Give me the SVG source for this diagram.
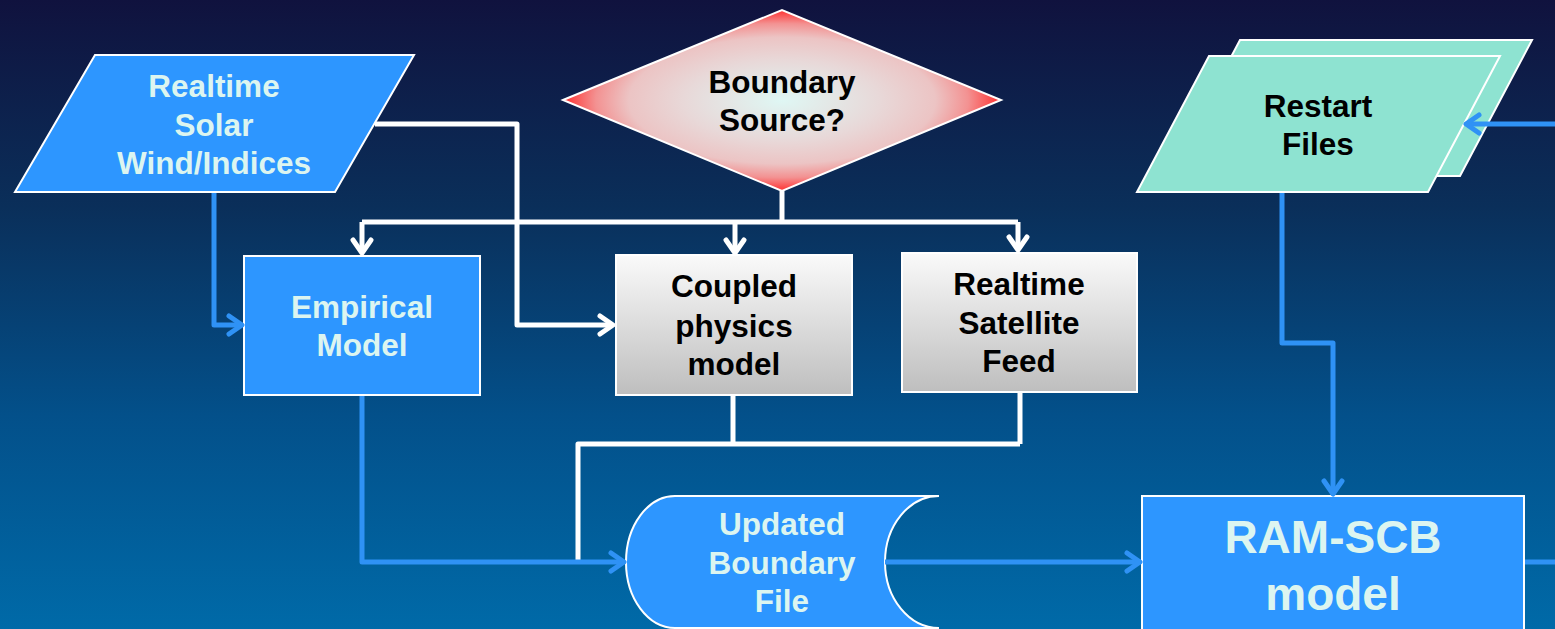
<svg xmlns="http://www.w3.org/2000/svg" width="1555" height="629" viewBox="0 0 1555 629">
<defs>
  <linearGradient id="bg" x1="0" y1="0" x2="0" y2="1">
    <stop offset="0" stop-color="#10123e"/>
    <stop offset="0.33" stop-color="#0a2f5a"/>
    <stop offset="0.66" stop-color="#03508a"/>
    <stop offset="1" stop-color="#006aa8"/>
  </linearGradient>
  <linearGradient id="gray" x1="0" y1="0" x2="0" y2="1">
    <stop offset="0" stop-color="#fafafa"/>
    <stop offset="1" stop-color="#bebebe"/>
  </linearGradient>
  <radialGradient id="dia" cx="0.5" cy="0.5" r="0.5">
    <stop offset="0" stop-color="#dff7f4"/>
    <stop offset="0.45" stop-color="#e8d8d8"/>
    <stop offset="0.7" stop-color="#ecc4c4"/>
    <stop offset="0.85" stop-color="#f39292"/>
    <stop offset="1" stop-color="#ff3030"/>
  </radialGradient>
  <marker id="aw" markerUnits="userSpaceOnUse" markerWidth="30" markerHeight="30" viewBox="-20 -15 30 30" refX="0" refY="0" orient="auto">
    <path d="M -13 -9 L 0 0 L -13 9" fill="none" stroke="#ffffff" stroke-width="5" stroke-linecap="round" stroke-linejoin="round"/>
  </marker>
  <marker id="ab" markerUnits="userSpaceOnUse" markerWidth="30" markerHeight="30" viewBox="-20 -15 30 30" refX="0" refY="0" orient="auto">
    <path d="M -13 -9 L 0 0 L -13 9" fill="none" stroke="#2f92f5" stroke-width="5" stroke-linecap="round" stroke-linejoin="round"/>
  </marker>
</defs>
<style>
  .node { stroke: #ffffff; stroke-width: 2; }
  .blue { fill: #2d96ff; }
  .teal { fill: #8ee3d1; }
  .lt { font-family: "Liberation Sans", Arial, sans-serif; font-weight: bold; font-size: 31.5px; fill: #dcf5f0; text-anchor: middle; }
  .dk { font-family: "Liberation Sans", Arial, sans-serif; font-weight: bold; font-size: 31.5px; fill: #000000; text-anchor: middle; }
  .big { font-size: 46px; }
  .wl { fill: none; stroke: #ffffff; stroke-width: 5; stroke-linejoin: round; }
  .bl { fill: none; stroke: #2f92f5; stroke-width: 5; stroke-linejoin: round; }
</style>
<rect x="0" y="0" width="1555" height="629" fill="url(#bg)"/>

<g id="solar-wind">
  <polygon class="node blue" points="95,55 414,55 335,192 15,192"/>
  <text class="lt" x="214" y="97">Realtime</text>
  <text class="lt" x="214" y="136">Solar</text>
  <text class="lt" x="214" y="174">Wind/Indices</text>
</g>

<g id="boundary-source">
  <polygon class="node" fill="url(#dia)" points="563,100 782,10 1001,100 782,191"/>
  <text class="dk" x="782" y="93">Boundary</text>
  <text class="dk" x="782" y="131">Source?</text>
</g>

<g id="restart-files">
  <polygon class="node teal" points="1240,40 1532,40 1460,176 1168,176"/>
  <polygon class="node teal" points="1209,56 1500,56 1428,192 1137,192"/>
  <text class="dk" x="1318" y="117">Restart</text>
  <text class="dk" x="1318" y="155">Files</text>
</g>

<g id="empirical-model">
  <rect class="node blue" x="244" y="256" width="236" height="139"/>
  <text class="lt" x="362" y="318">Empirical</text>
  <text class="lt" x="362" y="356">Model</text>
</g>

<g id="coupled-physics">
  <rect class="node" fill="url(#gray)" x="616" y="255" width="236" height="140"/>
  <text class="dk" x="734" y="297">Coupled</text>
  <text class="dk" x="734" y="337">physics</text>
  <text class="dk" x="734" y="375">model</text>
</g>

<g id="satellite-feed">
  <rect class="node" fill="url(#gray)" x="902" y="253" width="235" height="139"/>
  <text class="dk" x="1019" y="295">Realtime</text>
  <text class="dk" x="1019" y="334">Satellite</text>
  <text class="dk" x="1019" y="372">Feed</text>
</g>

<g id="updated-boundary-file">
  <path class="node blue" d="M 675 496 H 939 A 54 66 0 0 0 939 628 H 675 A 49 66 0 0 1 675 496 Z"/>
  <text class="lt" x="782" y="535">Updated</text>
  <text class="lt" x="782" y="574">Boundary</text>
  <text class="lt" x="782" y="612">File</text>
</g>

<g id="ram-scb">
  <rect class="node blue" x="1142" y="496" width="382" height="140"/>
  <text class="lt big" x="1333" y="553">RAM-SCB</text>
  <text class="lt big" x="1333" y="610">model</text>
</g>

<g id="connectors">
  <path class="wl" d="M 375 124 H 517 V 325 H 613" marker-end="url(#aw)"/>
  <path class="wl" d="M 782 191 V 222"/>
  <path class="wl" d="M 362 222 H 1018"/>
  <path class="wl" d="M 362 222 V 253" marker-end="url(#aw)"/>
  <path class="wl" d="M 735 222 V 253" marker-end="url(#aw)"/>
  <path class="wl" d="M 1018 222 V 250" marker-end="url(#aw)"/>
  <path class="wl" d="M 733 396 V 444"/>
  <path class="wl" d="M 1020 393 V 444"/>
  <path class="wl" d="M 578 562 V 444 H 1020"/>
  <path class="bl" d="M 214 193 V 325 H 242" marker-end="url(#ab)"/>
  <path class="bl" d="M 362 396 V 562 H 624" marker-end="url(#ab)"/>
  <path class="bl" d="M 885 562 H 1140" marker-end="url(#ab)"/>
  <path class="bl" d="M 1282 193 V 343 H 1333 V 494" marker-end="url(#ab)"/>
  <path class="bl" d="M 1525 562 H 1555"/>
  <path class="bl" d="M 1555 124 H 1466" marker-end="url(#ab)"/>
</g>
</svg>
